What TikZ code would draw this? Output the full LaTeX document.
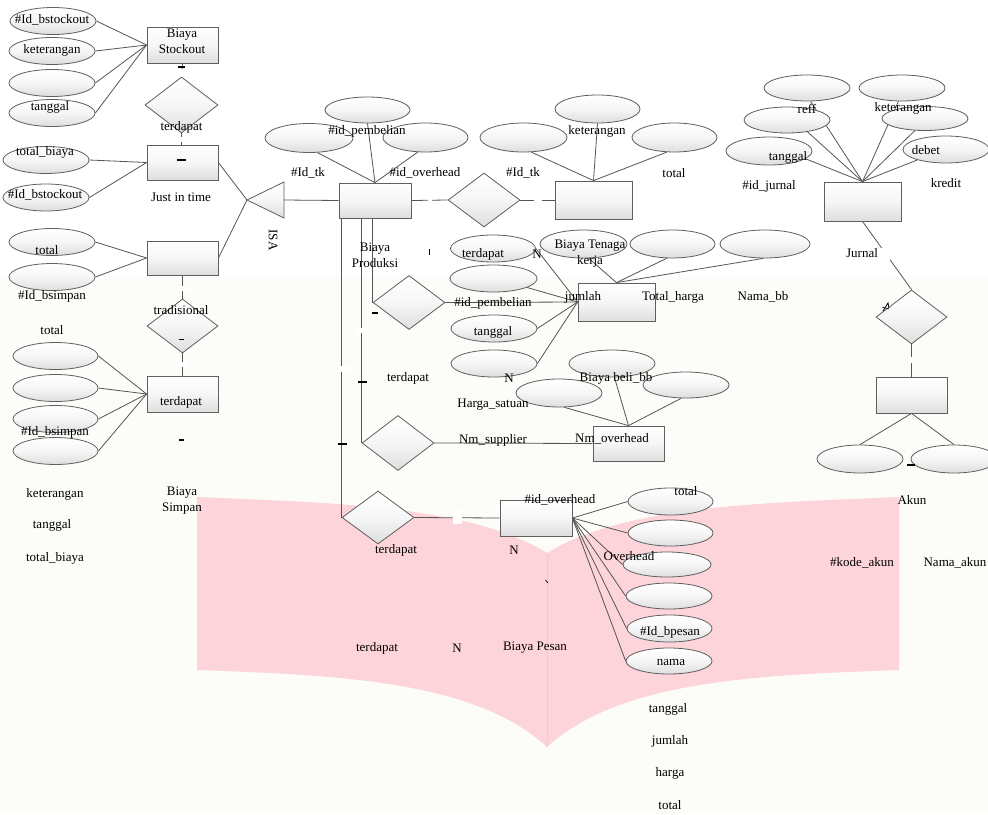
\documentclass[tikz,border=0pt]{standalone}
\usepackage{fontspec}
\setmainfont{Liberation Serif}
\usetikzlibrary{shapes.geometric}
\definecolor{lineC}{RGB}{85,85,85}
\definecolor{edgeC}{RGB}{95,95,95}
\definecolor{pinkC}{RGB}{253,212,217}
\definecolor{pinkL}{RGB}{243,200,205}
\definecolor{creamC}{RGB}{252,252,248}
\definecolor{fillBot}{RGB}{222,222,222}
\definecolor{fillMid}{RGB}{246,246,246}
\pgfdeclarelayer{bgl}
\pgfdeclarelayer{lines}
\pgfsetlayers{bgl,lines,main}
\tikzset{
 ent/.style={rectangle, draw=edgeC, line width=0.8pt, top color=white, bottom color=fillBot, middle color=fillMid, inner sep=0pt},
 attr/.style={ellipse, draw=edgeC, line width=0.8pt, top color=white, bottom color=fillBot, middle color=fillMid, inner sep=0pt, minimum width=86pt, minimum height=27pt},
 rel/.style={diamond, draw=edgeC, line width=0.8pt, top color=white, bottom color=fillBot, middle color=fillMid, inner sep=0pt, minimum width=72pt, minimum height=54pt},
 lbl/.style={inner sep=0pt, font=\fontsize{13}{16}\selectfont, align=center},
 conn/.style={draw=lineC, line width=0.8pt},
 gapbox/.style={fill=white, draw=none, inner sep=0pt},
 tickmark/.style={draw=black, line width=1.1pt},
}
\begin{document}
\begin{tikzpicture}[x=1pt,y=-1pt]
\clip (0,0) rectangle (988,814);
\useasboundingbox (0,0) rectangle (988,814);
% ---------- background ----------
\begin{pgfonlayer}{bgl}
\fill[white] (0,0) rectangle (988,814);
\fill[creamC] (0,277) rectangle (988,814);
\fill[pinkC] (197,497) .. controls (330,503) and (470,505) .. (547,553)
  .. controls (625,505) and (765,503) .. (899,497) -- (899,670)
  .. controls (760,675) and (620,680) .. (547,747)
  .. controls (475,680) and (335,675) .. (197,670) -- cycle;
\draw[pinkL, line width=0.6pt] (547,553) -- (547,747);
\end{pgfonlayer}

% ---------- Biaya Stockout / Just in time ----------
\node[attr] (a1) at (53,21) {};
\node[attr] (a2) at (52,51) {};
\node[attr] (a3) at (52,83) {};
\node[attr] (a4) at (52,113) {};
\node[ent, minimum width=71pt, minimum height=36pt] (bs) at (182.5,45) {};
\node[rel, minimum width=73pt, minimum height=56pt] (d1) at (181.5,105) {};
\node[ent, minimum width=71pt, minimum height=35pt] (jit) at (182.5,162.5) {};
\node[attr] (a5) at (46,160) {};
\node[attr] (a6) at (46,197.5) {};

% ---------- ISA ----------
\path[draw=edgeC, line width=0.8pt, top color=white, bottom color=fillBot, middle color=fillMid] (247,200) -- (284,182) -- (284,218) -- cycle;
\coordinate (isaA) at (247,200);
\coordinate (isaB) at (284,200);

% ---------- tradisional / Biaya Simpan ----------
\node[attr] (a7) at (52,242) {};
\node[attr] (a8) at (52,277) {};
\node[ent, minimum width=71pt, minimum height=34pt] (tr) at (182.5,258) {};
\node[rel, minimum width=71pt, minimum height=54pt] (d2) at (182.5,326) {};
\node[ent, minimum width=71pt, minimum height=36pt] (ts) at (182.5,394) {};
\node[attr, minimum width=85pt] (a9) at (55.5,356) {};
\node[attr, minimum width=85pt] (a10) at (55.5,388) {};
\node[attr, minimum width=85pt] (a11) at (55.5,419) {};
\node[attr, minimum width=85pt] (a12) at (55.5,451) {};

% ---------- Biaya Produksi ----------
\node[ent, minimum width=72pt, minimum height=35pt] (bp) at (375,200.5) {};
\node[attr, minimum width=88pt, minimum height=29pt] (a13) at (309,138) {};
\node[attr, minimum width=85pt, minimum height=26pt] (a14) at (367.5,110) {};
\node[attr, minimum width=85pt, minimum height=29pt] (a15) at (425.5,137.5) {};
\node[rel] (d3) at (484,200) {};
\node[ent, minimum width=77pt, minimum height=38pt] (e1) at (593.5,200) {};
\node[attr, minimum width=87pt, minimum height=29pt] (a16) at (523.5,137.5) {};
\node[attr, minimum width=85pt, minimum height=28pt] (a17) at (597.5,109) {};
\node[attr, minimum width=85pt, minimum height=29pt] (a18) at (674.5,137.5) {};

% ---------- pembelian ----------
\node[ent, minimum width=77pt, minimum height=38pt] (e2) at (616.5,302) {};
\node[attr, minimum width=87pt, minimum height=28pt] (a19) at (583.5,244) {};
\node[attr, minimum width=85pt, minimum height=28pt] (a20) at (672.5,244) {};
\node[attr, minimum width=90pt, minimum height=28pt] (a21) at (765,244) {};
\node[attr, minimum width=85pt] (a22) at (493,248.5) {};
\node[attr, minimum width=87pt] (a23) at (493.5,278.5) {};
\node[attr] (a24) at (494,328.5) {};
\node[attr] (a25) at (494,363.5) {};
\node[rel] (d4) at (409,302.5) {};

% ---------- supplier ----------
\node[rel, minimum height=55pt] (d5) at (398,443) {};
\node[ent, minimum width=71pt, minimum height=35pt] (e3) at (628.5,443.5) {};
\node[attr, minimum height=28pt] (a26) at (559,393) {};
\node[attr] (a27) at (612,363.5) {};
\node[attr, minimum height=26pt] (a28) at (686,385) {};

% ---------- overhead / pesan ----------
\node[rel, minimum height=53pt] (d6) at (378,517.5) {};
\node[ent, minimum width=72pt, minimum height=36pt] (e4) at (536,518) {};
\node[attr, minimum width=85pt] (a29) at (670.5,501.5) {};
\node[attr, minimum width=85pt, minimum height=26pt] (a30) at (670.5,533) {};
\node[attr, minimum width=88pt, minimum height=25pt] (a31) at (667,564.5) {};
\node[attr, minimum height=26pt] (a32) at (669,596) {};
\node[attr, minimum width=85pt] (a33) at (669.5,628.5) {};
\node[attr, minimum height=26pt] (a34) at (669,661) {};

% ---------- Jurnal / Akun ----------
\node[ent, minimum width=77pt, minimum height=39pt] (e5) at (862.5,201.5) {};
\node[attr, minimum height=26pt] (a35) at (807,88) {};
\node[attr, minimum height=26pt] (a36) at (902,88) {};
\node[attr, minimum height=26pt] (a37) at (787,120) {};
\node[attr, minimum height=24pt] (a38) at (925,118.5) {};
\node[attr, minimum height=28pt] (a39) at (769,151) {};
\node[attr] (a40) at (946,149.5) {};
\node[rel, minimum width=71pt] (d7) at (911.5,317) {};
\node[ent, minimum width=71pt, minimum height=36pt] (e6) at (911.5,395) {};
\node[attr, minimum height=28pt] (a41) at (860,459) {};
\node[attr, minimum height=28pt] (a42) at (954,459) {};

% ---------- connectors ----------
\begin{pgfonlayer}{lines}
\foreach \n in {a1,a2,a3,a4} \draw[conn] (\n.east) -- (bs.west);
\draw[conn] (bs.south) -- (d1.north);
\draw[conn] (d1.south) -- (d1.south |- jit.north);
\foreach \n in {a5,a6} \draw[conn] (\n.east) -- (jit.west);
\draw[conn] (jit.east) -- (isaA);
\draw[conn] (tr.east) -- (isaA);
\draw[conn] (isaB) -- (bp.west);
\foreach \n in {a7,a8} \draw[conn] (\n.east) -- (tr.west);
\draw[conn] (tr.south) -- (d2.north);
\draw[conn] (d2.south) -- (ts.north);
\foreach \n in {a9,a10,a11,a12} \draw[conn] (\n.east) -- (ts.west);
\draw[conn] (a13.-60) -- (bp.north);
\draw[conn] (a14.south) -- (bp.north);
\draw[conn] (a15.-118) -- (bp.north);
\draw[conn] (bp.east) -- (d3.west);
\draw[conn] (d3.east) -- (e1.west);
\draw[conn] (a16.-62) -- (e1.north);
\draw[conn] (a17.south) -- (e1.north);
\draw[conn] (a18.-118) -- (e1.north);
\draw[conn] (a19.-70) -- (e2.north);
\draw[conn] (a20.-112) -- (e2.north);
\draw[conn] (a21.-97) -- (e2.north);
\draw[conn] (a22.east) -- (e2.west);
\draw[conn] (a23.-15) -- (e2.west);
\draw[conn] (a24.east) -- (e2.west);
\draw[conn] (a25.east) -- (e2.west);
\draw[conn] (d4.east) -- (e2.west);
\draw[conn] (d4.west |- bp.south) -- (d4.west);
\draw[conn] (d5.west |- bp.south) -- (d5.west);
\draw[conn] (d6.west |- bp.south) -- (d6.west);
\draw[conn] (d5.east) -- (e3.west);
\draw[conn] (a26.-70) -- (e3.north);
\draw[conn] (a27.-80) -- (e3.north);
\draw[conn] (a28.-110) -- (e3.north);
\draw[conn] (d6.east) -- (e4.west);
\foreach \n in {a29,a30,a31,a32,a33,a34} \draw[conn] (e4.east) -- (\n.west);
\draw[conn] (a35.-75) -- (e5.north);
\draw[conn] (a36.-105) -- (e5.north);
\draw[conn] (a37.-30) -- (e5.north);
\draw[conn] (a38.-130) -- (e5.north);
\draw[conn] (a39.-12) -- (e5.north);
\draw[conn] (a40.-160) -- (e5.north);
\draw[conn] (e5.south) -- (d7.north);
\draw[conn] (d7.south) -- (e6.north);
\draw[conn] (e6.south) -- (a41.north);
\draw[conn] (e6.south) -- (a42.north);
\end{pgfonlayer}

% ---------- gaps in connectors ----------
\node[gapbox, minimum width=8pt, minimum height=8pt] (g1) at (181.5,72.5) {};
\node[gapbox, minimum width=8pt, minimum height=5pt] (g2) at (182,139.5) {};
\node[gapbox, minimum width=12pt, minimum height=5pt] (g3) at (182.5,288) {};
\node[gapbox, minimum width=12pt, minimum height=5pt] (g4) at (182.5,364.5) {};
\node[gapbox, minimum width=4pt, minimum height=6pt] (g5) at (430,200) {};
\node[gapbox, minimum width=8pt, minimum height=6pt] (g6) at (537.5,200) {};
\node[gapbox, minimum width=13pt, minimum height=5pt] (g7) at (362.5,330) {};
\node[gapbox, minimum width=13pt, minimum height=6pt] (g8) at (343,368.5) {};
\node[gapbox, minimum width=9pt, minimum height=14pt] (g9) at (457.5,517) {};
\node[gapbox, minimum width=10pt, minimum height=12pt] (g10) at (885,254) {};
\node[gapbox, minimum width=8pt, minimum height=6pt] (g11) at (911.5,360) {};
\node[gapbox, minimum width=5pt, minimum height=4pt] (g12) at (513,446) {};

% ---------- tick marks ----------
\draw[tickmark] (178,67) -- (185,67);
\draw[tickmark] (177,160) -- (186,160);
\draw[tickmark] (179,339.5) -- (184,339.5);
\draw[tickmark] (179,440) -- (184,440);
\draw[tickmark] (372,313) -- (378,313);
\draw[tickmark] (358,382) -- (367,382);
\draw[tickmark] (338,444) -- (347,444);
\draw[tickmark] (907,465) -- (915,465);
\draw[line width=0.7pt] (429,249) -- (429,255);
\draw[line width=0.7pt] (545.5,580) -- (548,583);
\draw[line width=0.8pt] (883,311) -- (888,303) -- (889,308);
\draw[line width=0.6pt] (882,307) -- (889,309);

% ---------- labels ----------
\node[lbl] (t1) at (52,20) {\#Id\_bstockout};
\node[lbl] (t2) at (52,50) {keterangan};
\node[lbl] (t3) at (50,107) {tanggal};
\node[lbl] (t4) at (182,41) {Biaya\\Stockout};
\node[lbl] (t5) at (181.5,127) {terdapat};
\node[lbl] (t6) at (45,152) {total\_biaya};
\node[lbl] (t7) at (45,195) {\#Id\_bstockout};
\node[lbl] (t8) at (181,197) {Just in time};
\node[lbl, rotate=-90] (t9) at (273,240) {ISA};
\node[lbl] (t10) at (47,250) {total};
\node[lbl] (t11) at (52,296) {\#Id\_bsimpan};
\node[lbl] (t12) at (52,330) {total};
\node[lbl] (t13) at (181,310) {tradisional};
\node[lbl] (t14) at (181,402) {terdapat};
\node[lbl] (t15) at (55,432) {\#Id\_bsimpan};
\node[lbl] (t16) at (55,494) {keterangan};
\node[lbl] (t17) at (52,525) {tanggal};
\node[lbl] (t18) at (55,558) {total\_biaya};
\node[lbl] (t19) at (182,501) {Biaya\\Simpan};
\node[lbl] (t20) at (367,131) {\#id\_pembelian};
\node[lbl] (t21) at (308,173) {\#Id\_tk};
\node[lbl] (t22) at (425,173) {\#id\_overhead};
\node[lbl] (t23) at (375,255) {Biaya\\Produksi};
\node[lbl] (t24) at (597,131) {keterangan};
\node[lbl] (t25) at (523,173) {\#Id\_tk};
\node[lbl] (t26) at (674,173) {total};
\node[lbl] (t27) at (483,254) {terdapat};
\node[lbl] (t28) at (537,254) {N};
\node[lbl] (t29) at (590,254) {Biaya Tenaga\\kerja};
\node[lbl] (t30) at (583,297) {jumlah};
\node[lbl] (t31) at (673,297) {Total\_harga};
\node[lbl] (t32) at (763,297) {Nama\_bb};
\node[lbl] (t33) at (493,303) {\#id\_pembelian};
\node[lbl] (t34) at (493,332) {tanggal};
\node[lbl] (t35) at (408,378) {terdapat};
\node[lbl] (t36) at (509,378) {N};
\node[lbl] (t37) at (616,378) {Biaya beli\_bb};
\node[lbl] (t38) at (493,405) {Harga\_satuan};
\node[lbl] (t39) at (493,440) {Nm\_supplier};
\node[lbl] (t40) at (612,439) {Nm\_overhead};
\node[lbl] (t41) at (560,500) {\#id\_overhead};
\node[lbl] (t42) at (396,550) {terdapat};
\node[lbl] (t43) at (514,550) {N};
\node[lbl] (t44) at (686,491) {total};
\node[lbl] (t45) at (629,556) {Overhead};
\node[lbl] (t46) at (670,632) {\#Id\_bpesan};
\node[lbl] (t47) at (671,662) {nama};
\node[lbl] (t48) at (377,648) {terdapat};
\node[lbl] (t49) at (457,648) {N};
\node[lbl] (t50) at (535,648) {Biaya Pesan};
\node[lbl] (t51) at (668,709) {tanggal};
\node[lbl] (t52) at (670,741) {jumlah};
\node[lbl] (t53) at (670,773) {harga};
\node[lbl] (t54) at (670,805) {total};
\node[lbl] (t55) at (807,109) {reff};
\node[lbl] (t56) at (903,108) {keterangan};
\node[lbl] (t57) at (788,157) {tanggal};
\node[lbl] (t58) at (926,150) {debet};
\node[lbl] (t59) at (769,186) {\#id\_jurnal};
\node[lbl] (t60) at (946,183) {kredit};
\node[lbl] (t61) at (862,253) {Jurnal};
\node[lbl] (t62) at (912,500) {Akun};
\node[lbl] (t63) at (862,563) {\#kode\_akun};
\node[lbl] (t64) at (955,563) {Nama\_akun};
\end{tikzpicture}
\end{document}
